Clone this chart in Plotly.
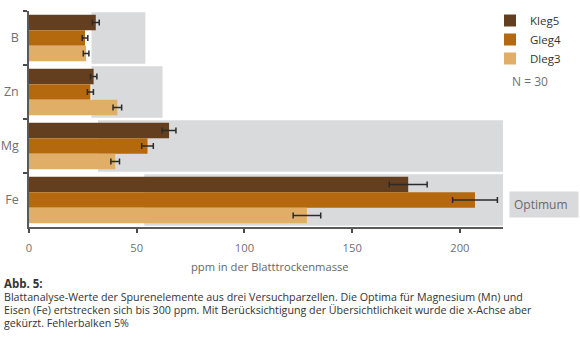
import plotly.graph_objects as go

# ---- data ----
elements = ["B", "Zn", "Mg", "Fe"]
series_names = ["Kleg5", "Gleg4", "Dleg3"]
kleg5 = [31, 30, 65, 176]
gleg4 = [26, 28.5, 55, 207]
dleg3 = [26.5, 41, 40, 129]
kleg5_err = [1.6, 1.5, 3.2, 8.8]
gleg4_err = [1.3, 1.4, 2.7, 10.4]
dleg3_err = [1.3, 2.0, 2.0, 6.4]
opt_low = [29, 29, 32, 53.5]
opt_high = [54, 62, 300, 300]
x_ticks = [0, 50, 100, 150, 200]

colors = ["#633f1f", "#b5690f", "#e1ae68"]
gray = "#d9dadc"

W, H = 580, 346
ml, mr, mt, mb = 29, 77, 11, 119
pw = W - ml - mr
ph = H - mt - mb


def px(xp):
    return (xp - ml) / pw


def py(yp):
    return (H - mb - yp) / ph


fig = go.Figure()

# optimum ranges (background, primary y axis)
fig.add_trace(go.Bar(
    y=elements, x=[h - l for l, h in zip(opt_low, opt_high)], base=opt_low,
    orientation="h", marker=dict(color=gray, line=dict(width=0)),
    width=0.95, showlegend=False, hoverinfo="skip", yaxis="y", xaxis="x",
))

vals = [kleg5, gleg4, dleg3]
errs = [kleg5_err, gleg4_err, dleg3_err]
for name, v, e, c in zip(series_names, vals, errs, colors):
    fig.add_trace(go.Bar(
        y=elements, x=v, name=name, orientation="h", yaxis="y2",
        marker=dict(color=c, line=dict(width=0)),
        error_x=dict(type="data", array=e, color="#2b2b2b", thickness=1.5, width=3),
    ))

font_family = "Open Sans, Noto Sans, sans-serif"

fig.update_layout(
    template="none",
    width=W, height=H,
    margin=dict(l=ml, r=mr, t=mt, b=mb, autoexpand=False),
    paper_bgcolor="white", plot_bgcolor="white",
    font=dict(family=font_family, size=12, color="#6e6e6e"),
    barmode="group", bargap=0.135, bargroupgap=0,
    xaxis=dict(range=[0, 220], tickvals=x_ticks, ticks="outside", ticklen=4,
               tickwidth=1.5, tickcolor="#4a4a4a", showline=True, linewidth=2,
               linecolor="#5a5a5a", showgrid=False, zeroline=False, automargin=False,
               ticklabelstandoff=6,
               tickfont=dict(size=11.2, color="#707070")),
    yaxis=dict(categoryorder="array", categoryarray=elements, autorange="reversed",
               tickson="boundaries", ticks="outside", ticklen=4, tickwidth=1.5,
               tickcolor="#4a4a4a", showline=True, linewidth=1.5, linecolor="#5a5a5a",
               showgrid=False, zeroline=False, ticklabelstandoff=6, automargin=False,
               tickfont=dict(size=12.5, color="#707070")),
    yaxis2=dict(overlaying="y", matches="y", visible=False, automargin=False,
                categoryorder="array", categoryarray=elements),
    legend=dict(xref="container", yref="container", x=490 / W, y=1 - 6 / H,
                xanchor="left", yanchor="top",
                font=dict(size=11.5, color="#333333"), bgcolor="rgba(0,0,0,0)",
                itemwidth=30, tracegroupgap=0, borderwidth=0),
    showlegend=True,
)

ann = []
ann.append(dict(text="N = 30", x=px(510), y=py(81), xref="paper", yref="paper",
                xanchor="left", yanchor="middle", showarrow=False,
                font=dict(size=12, color="#707070")))
ann.append(dict(text="Optimum", x=px(509), y=py(204), xref="paper", yref="paper",
                xanchor="left", yanchor="middle", showarrow=False, bgcolor=gray,
                width=60, height=17, borderpad=4, align="left",
                font=dict(size=12, color="#6a6a6a")))
ann.append(dict(text="ppm in der Blatttrockenmasse", x=px(270), y=py(266.5),
                xref="paper", yref="paper", xanchor="center", yanchor="middle",
                showarrow=False, font=dict(size=11.2, color="#666666")))
ann.append(dict(text="<b>Abb. 5:</b>", x=px(2), y=py(283.5), xref="paper", yref="paper",
                xanchor="left", yanchor="middle", showarrow=False,
                font=dict(size=11.5, color="#333333")))
caption_lines = [
    "Blattanalyse-Werte der Spurenelemente aus drei Versuchparzellen. Die Optima für Magnesium (Mn) und",
    "Eisen (Fe) ertstrecken sich bis 300 ppm. Mit Berücksichtigung der Übersichtlichkeit wurde die x-Achse aber",
    "gekürzt. Fehlerbalken 5%",
]
for i, line in enumerate(caption_lines):
    ann.append(dict(text=line, x=px(2), y=py(296.5 + 13 * i), xref="paper", yref="paper",
                    xanchor="left", yanchor="middle", showarrow=False,
                    font=dict(size=10.7, color="#333333")))
fig.update_layout(annotations=ann)

fig.write_html("out.html")
